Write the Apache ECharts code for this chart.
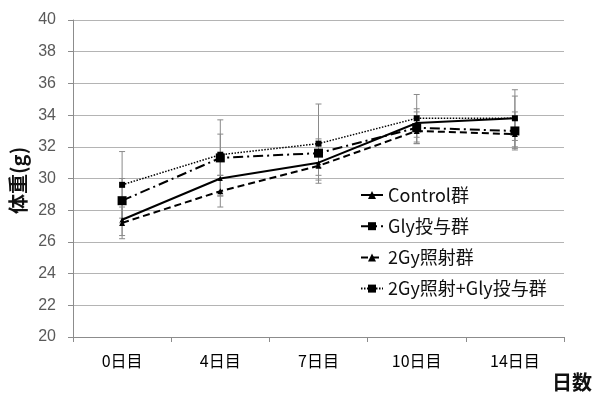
<!DOCTYPE html>
<html>
<head>
<meta charset="utf-8">
<script src="https://cdn.jsdelivr.net/npm/echarts@6/dist/echarts.min.js"></script>
<style>
  html, body { margin: 0; padding: 0; background: #fff; }
  #chart { width: 595px; height: 394px; }
</style>
</head>
<body>
<div id="chart"></div>
<script>
// Body weight (g) by day for four groups, with SD error bars
var days = ['0日目', '4日目', '7日目', '10日目', '14日目'];
var yTicks = [20, 22, 24, 26, 28, 30, 32, 34, 36, 38, 40];

var names = ['Control群', 'Gly投与群', '2Gy照射群', '2Gy照射+Gly投与群'];

var controlMean = [27.4, 30.0, 31.0, 33.5, 33.8];
var glyMean     = [28.6, 31.3, 31.6, 33.2, 33.0];
var irrMean     = [27.2, 29.2, 30.8, 33.0, 32.8];
var irrGlyMean  = [29.6, 31.5, 32.2, 33.8, 33.8];

var controlSd = [1.0, 1.1, 0.8, 0.9, 1.8];
var glySd     = [1.4, 2.4, 0.9, 1.0, 1.2];
var irrSd     = [1.0, 1.0, 0.9, 0.8, 0.9];
var irrGlySd  = [2.1, 1.3, 2.5, 1.5, 1.4];

var cjk = '"Noto Sans CJK JP", sans-serif';

function errorSeries(means, sds) {
  var data = means.map(function (m, i) { return [i, m - sds[i], m + sds[i]]; });
  return {
    type: 'custom',
    silent: true,
    z: 1,
    data: data,
    renderItem: function (params, api) {
      var x = api.value(0);
      var lo = api.coord([x, api.value(1)]);
      var hi = api.coord([x, api.value(2)]);
      var cap = 3;
      var st = { stroke: '#8a8a8a', lineWidth: 1 };
      return {
        type: 'group',
        children: [
          { type: 'line', shape: { x1: hi[0], y1: hi[1], x2: lo[0], y2: lo[1] }, style: st },
          { type: 'line', shape: { x1: hi[0] - cap, y1: hi[1], x2: hi[0] + cap, y2: hi[1] }, style: st },
          { type: 'line', shape: { x1: lo[0] - cap, y1: lo[1], x2: lo[0] + cap, y2: lo[1] }, style: st }
        ]
      };
    }
  };
}

function lineSeries(name, data, symbol, size, lineType, width) {
  return {
    name: name,
    type: 'line',
    data: data,
    z: 3,
    symbol: symbol,
    symbolSize: size,
    showAllSymbol: true,
    itemStyle: { color: '#000', borderWidth: 0 },
    lineStyle: { color: '#000', width: width, type: lineType },
    emphasis: { disabled: true },
    animation: false
  };
}

var chart = echarts.init(document.getElementById('chart'), null, { renderer: 'canvas' });

chart.setOption({
  animation: false,
  backgroundColor: '#fff',
  grid: { left: 73, right: 31, top: 20, bottom: 57, containLabel: false },
  xAxis: {
    type: 'category',
    data: days,
    boundaryGap: true,
    axisLine: { show: true, lineStyle: { color: '#8c8c8c', width: 1 } },
    axisTick: { show: true, inside: false, length: 5, alignWithLabel: false, lineStyle: { color: '#8c8c8c' } },
    axisLabel: { margin: 16, color: '#000', fontSize: 16, fontFamily: cjk },
    splitLine: { show: false }
  },
  yAxis: {
    type: 'value',
    min: yTicks[0],
    max: yTicks[yTicks.length - 1],
    interval: yTicks[1] - yTicks[0],
    axisLine: { show: true, lineStyle: { color: '#8c8c8c', width: 1 } },
    axisTick: { show: true, length: 5, lineStyle: { color: '#8c8c8c' } },
    axisLabel: { margin: 17, color: '#595959', fontSize: 16, fontFamily: '"Liberation Sans", Arial, sans-serif' },
    splitLine: { show: true, lineStyle: { color: '#b4b4b4', width: 1 } }
  },
  legend: {
    orient: 'vertical',
    left: 355,
    top: 180,
    itemWidth: 22,
    itemHeight: 10,
    itemGap: 11.2,
    data: names,
    textStyle: { fontSize: 18, lineHeight: 20, color: '#111', fontFamily: cjk },
    selectedMode: false
  },
  graphic: [
    {
      type: 'text',
      rotation: Math.PI / 2,
      x: 8, y: 214,
      style: { text: '体重(g)', fill: '#111', font: 'bold 20px "Noto Sans CJK JP"' }
    },
    {
      type: 'text',
      right: 3,
      top: 372,
      style: { text: '日数', fill: '#111', font: 'bold 20px "Noto Sans CJK JP"' }
    }
  ],
  series: [
    errorSeries(controlMean, controlSd),
    errorSeries(glyMean, glySd),
    errorSeries(irrMean, irrSd),
    errorSeries(irrGlyMean, irrGlySd),
    lineSeries(names[0], controlMean, 'triangle', 5, 'solid', 2),
    lineSeries(names[1], glyMean, 'rect', 9, [10, 4, 2, 4], 2),
    lineSeries(names[2], irrMean, 'triangle', 6, [7, 4], 2),
    lineSeries(names[3], irrGlyMean, 'rect', 6, [1.5, 1.5], 1.5)
  ]
});
</script>
</body>
</html>
